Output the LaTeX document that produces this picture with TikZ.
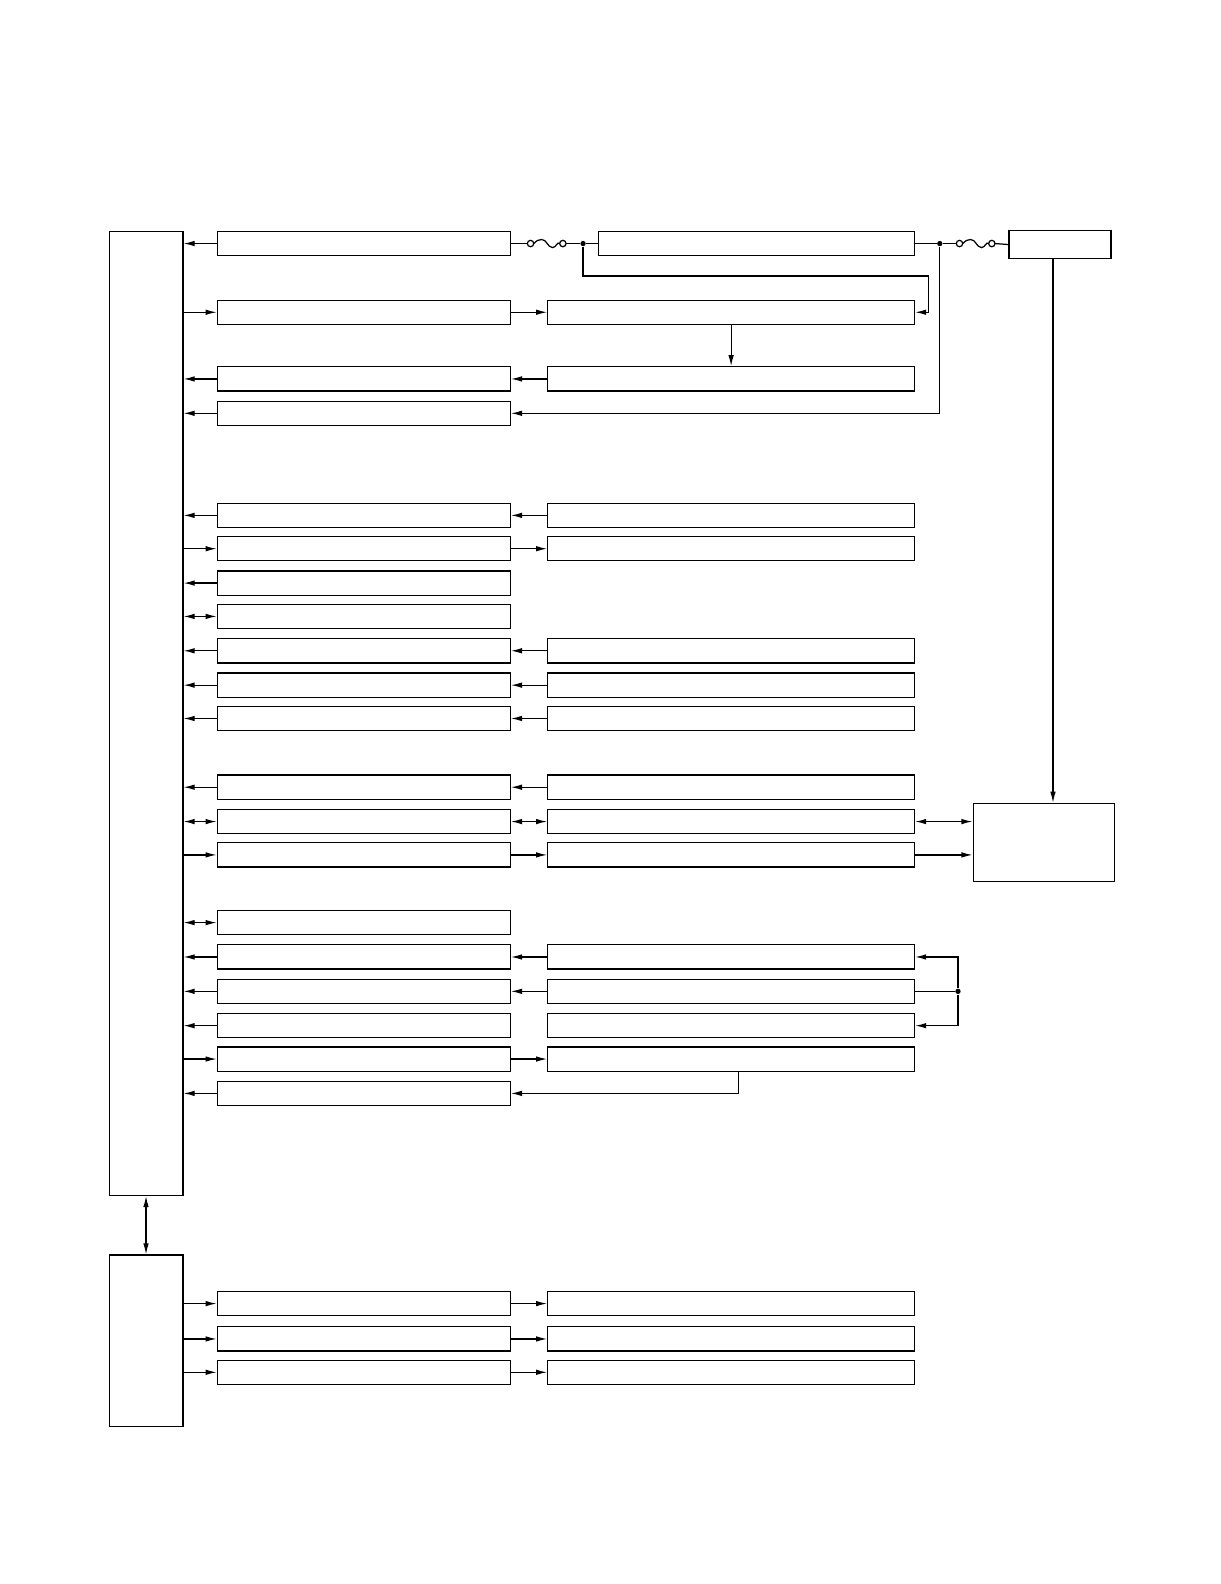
\documentclass[tikz,border=0pt]{standalone}
\usetikzlibrary{arrows.meta}

\tikzset{
  blk/.style={draw, inner sep=0pt, minimum height=0.48cm},
  lbox/.style={blk, minimum width=5.8cm},
  rbox/.style={blk, minimum width=7.26cm},
  tip/.style={-{Latex[length=0.22cm,width=0.11cm]}},
  tip2/.style={{Latex[length=0.22cm,width=0.11cm]}-{Latex[length=0.22cm,width=0.11cm]}},
  dot/.style={fill, circle, inner sep=0pt, minimum size=3pt},
  fuse/.pic={
    \draw (-12.8,0) to[out=50,in=180] (-5,-4) to[out=0,in=180] (6,4) to[out=0,in=130] (12.8,0);
    \draw[fill=white] (-16,0) circle[radius=1.8pt] (16,0) circle[radius=1.8pt];
    \coordinate (-a) at (-19.2,0);
    \coordinate (-b) at (19.2,0);
  }
}

\begin{document}
\begin{tikzpicture}[x=0.02cm, y=-0.02cm, line width=0.7pt]
	\useasboundingbox (0,0) rectangle (1207.3,1567.5);

	% control units
	\node[blk, minimum width=1.46cm, minimum height=19.08cm] (ctrl) at (144.5,706) {};
	\node[blk, minimum width=1.46cm, minimum height=3.4cm] (sub) at (144.5,1327) {};
	\draw[tip2] (ctrl.south) -- (sub.north);

	% box columns
	\foreach \n/\y in {1/241,2/309,3/375,4/409,5/510,6/543,7/577,8/610,9/644,10/678,11/711,
		12/779,13/813,14/846,15/913,16/947,17/981,18/1015,19/1048,20/1082,21/1290,22/1325,23/1358}
		\node[lbox] (l\n) at (360,\y) {};
	\foreach \n/\y in {2/309,3/375,5/510,6/543,9/644,10/678,11/711,12/779,13/813,14/846,
		16/947,17/981,18/1015,19/1048,21/1290,22/1325,23/1358}
		\node[rbox] (r\n) at (723.5,\y) {};
	\node[blk, minimum width=6.26cm] (r1) at (748.5,241) {};
	\node[blk, minimum width=2.02cm, minimum height=0.56cm] (src) at (1049,242) {};
	\node[blk, minimum width=2.8cm, minimum height=1.54cm] (unit) at (1033,833.5) {};

	% links to the control units
	\foreach \n in {1,3,4,5,7,9,10,11,12,16,17,18,20}
		\draw[tip] (l\n.west) -- (l\n.west -| ctrl.east);
	\foreach \n in {2,6,14,19}
		\draw[tip] (l\n.west -| ctrl.east) -- (l\n.west);
	\foreach \n in {8,13,15}
		\draw[tip2] (l\n.west -| ctrl.east) -- (l\n.west);
	\foreach \n in {21,22,23}
		\draw[tip] (l\n.west -| sub.east) -- (l\n.west);

	% links between the columns
	\foreach \n in {3,5,9,10,11,12,16,17}
		\draw[tip] (r\n.west) -- (l\n.east);
	\foreach \n in {2,6,14,19,21,22,23}
		\draw[tip] (l\n.east) -- (r\n.west);
	\draw[tip2] (l13.east) -- (r13.west);

	% supply line with fuses
	\pic (f1) at (541,241) {fuse};
	\pic (f2) at (965.5,241) {fuse};
	\node[dot] (j1) at (577,241) {};
	\node[dot] (j2) at (930,241) {};
	\coordinate (k1) at (919,273);
	\draw (l1.east) -- (f1-a);
	\draw (f1-b) -- (j1) -- (r1.west);
	\draw (r1.east) -- (j2) -- (f2-a);
	\draw (f2-b) -- (src.west);
	\draw[tip] (j1) |- (k1) |- (r2.east);
	\draw[tip] (j2) |- (l4.east);
	\draw[tip] (r2.south) -- (r3.north);
	\draw[tip] ([xshift=-0.14cm]src.south) -- ([xshift=-0.14cm]src.south |- unit.north);

	% right side
	\draw[tip2] (r13.east) -- (r13.east -| unit.west);
	\draw[tip] (r14.east) -- (r14.east -| unit.west);
	\node[dot] (j3) at (948,981) {};
	\draw (r17.east) -- (j3);
	\draw[tip] (j3) |- (r16.east);
	\draw[tip] (j3) |- (r18.east);
	\draw[tip] ([xshift=0.15cm]r19.south) |- (l20.east);
\end{tikzpicture}
\end{document}
